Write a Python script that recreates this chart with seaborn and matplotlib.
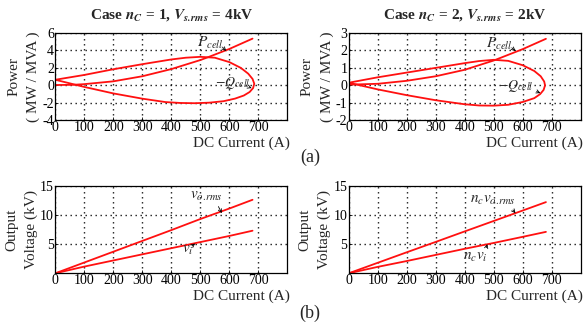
import numpy as np
import pandas as pd
import matplotlib
matplotlib.use("Agg")
import matplotlib.pyplot as plt
import seaborn as sns

# ---- data -------------------------------------------------------------
# Case nC = 1, Vs.rms = 4 kV : cell powers vs DC current
p1_current = [0, 60, 100, 200, 300, 400, 500, 530, 600, 680]
p1_power = [0.0, 0.02, 0.1, 0.42, 1.0, 1.82, 2.85, 3.22, 4.12, 5.3]
q1_current = [0, 100, 200, 300, 400, 450, 500, 550, 600, 640, 665, 680, 686,
              682, 670, 650, 620, 580, 530, 480, 430, 380, 300, 200, 100, 0]
q1_power = [0.6, 1.15, 1.8, 2.38, 2.92, 3.12, 3.22, 3.12, 2.62, 1.95, 1.3, 0.7,
            0.15, -0.35, -0.8, -1.2, -1.55, -1.85, -2.02, -2.08, -2.05, -1.95,
            -1.56, -0.96, -0.22, 0.6]

# Case nC = 2, Vs.rms = 2 kV
p2_current = [0, 100, 200, 300, 400, 500, 600, 680]
p2_power = [0.02, 0.07, 0.24, 0.5, 0.87, 1.4, 2.05, 2.64]
q2_current = [0, 100, 200, 300, 400, 450, 500, 550, 600, 640, 662, 674, 677,
              672, 660, 640, 600, 550, 500, 450, 400, 300, 200, 100, 0]
q2_power = [0.13, 0.44, 0.71, 0.98, 1.25, 1.37, 1.44, 1.38, 1.13, 0.8, 0.5,
            0.2, -0.02, -0.28, -0.52, -0.75, -0.97, -1.13, -1.18, -1.17, -1.1,
            -0.87, -0.58, -0.25, 0.13]

# Output voltages vs DC current
v_current = [0, 100, 200, 300, 400, 500, 600, 680]
vo1 = [0.0, 1.85, 3.7, 5.55, 7.4, 9.3, 11.1, 12.6]
vi1 = [0.0, 1.15, 2.2, 3.25, 4.3, 5.35, 6.4, 7.3]
vo2 = [0.0, 1.8, 3.6, 5.38, 7.18, 8.97, 10.76, 12.2]
vi2 = [0.0, 1.1, 2.1, 3.15, 4.2, 5.2, 6.25, 7.1]

x_ticks = [0, 100, 200, 300, 400, 500, 600, 700]
titles = [r"Case $\mathbfit{n}_{\mathbfit{C}}$ = 1, $\mathbfit{V}_{\mathbfit{s.\!rms}}$ = 4kV",
          r"Case $\mathbfit{n}_{\mathbfit{C}}$ = 2, $\mathbfit{V}_{\mathbfit{s.\!rms}}$ = 2kV"]


def frame(current, value, name):
    return pd.DataFrame({"current": current, "value": value, "series": name,
                         "order": np.arange(len(current))})


# ---- style ------------------------------------------------------------
sns.set_theme(style="ticks")
plt.rcParams.update({
    "font.family": ["Liberation Serif", "DejaVu Serif"],
    "mathtext.fontset": "stix",
    "axes.unicode_minus": False,
    "axes.edgecolor": "black",
    "axes.linewidth": 0.9,
    "xtick.direction": "in",
    "ytick.direction": "in",
    "xtick.major.size": 2.5,
    "ytick.major.size": 2.5,
    "xtick.major.width": 0.6,
    "ytick.major.width": 0.6,
    "xtick.major.pad": 0.8,
    "ytick.major.pad": 1.0,
    "xtick.labelsize": 10,
    "ytick.labelsize": 10,
    "xtick.color": "black",
    "ytick.color": "black",
})

RED = "#ff1010"
fig = plt.figure(figsize=(5.84, 3.28), dpi=100)

W, H = 0.3973, 0.2668
axes = {
    "tl": fig.add_axes([0.0947, 0.6341, W, H]),
    "tr": fig.add_axes([0.5971, 0.6341, W, H]),
    "bl": fig.add_axes([0.0947, 0.1668, W, H]),
    "br": fig.add_axes([0.5971, 0.1668, W, H]),
}


def draw(ax, df):
    sns.lineplot(data=df, x="current", y="value", hue="series", units="series",
                 estimator=None, sort=False, palette=[RED] * df["series"].nunique(),
                 linewidth=1.3, legend=False, ax=ax, zorder=3)


def style(ax, ylim, yticks, ylabel, label_x):
    ax.set_xlim(0, 800)
    ax.set_ylim(*ylim)
    ax.set_xticks(x_ticks)
    ax.set_yticks(yticks)
    ax.grid(True, which="major", color="black", linestyle=(0, (1, 2.6)),
            linewidth=1.0, alpha=0.9)
    ax.set_xlabel("DC Current (A)", fontsize=11, loc="right", labelpad=0)
    ax.xaxis.set_label_coords(1.01, -0.185)
    ax.xaxis.label.set_va("top")
    ax.set_ylabel(ylabel, fontsize=11, linespacing=1.6)
    ax.yaxis.set_label_coords(label_x, 0.5)
    for s in ax.spines.values():
        s.set_visible(True)
        s.set_color("black")
        s.set_zorder(4)


def note(ax, text, xy_text, xy_tip, relpos, size=11):
    ax.annotate(text, xy=xy_tip, xytext=xy_text, textcoords="data",
                fontsize=size, ha="left", va="baseline", zorder=5,
                arrowprops=dict(arrowstyle="->", color="black", lw=0.6,
                                relpos=relpos, shrinkA=0, shrinkB=0,
                                mutation_scale=6))


# power panels
draw(axes["tl"], pd.concat([frame(p1_current, p1_power, "P"),
                            frame(q1_current, q1_power, "Q")]))
draw(axes["tr"], pd.concat([frame(p2_current, p2_power, "P"),
                            frame(q2_current, q2_power, "Q")]))
style(axes["tl"], (-4, 6), [-4, -2, 0, 2, 4, 6], "Power\n( MW / MVA )", -0.065)
style(axes["tr"], (-2, 3), [-2, -1, 0, 1, 2, 3], "Power\n( MW / MVA )", -0.065)

# voltage panels
draw(axes["bl"], pd.concat([frame(v_current, vo1, "vo"),
                            frame(v_current, vi1, "vi")]))
draw(axes["br"], pd.concat([frame(v_current, vo2, "vo"),
                            frame(v_current, vi2, "vi")]))
style(axes["bl"], (0, 15), [5, 10, 15], "Output\nVoltage (kV)", -0.075)
style(axes["br"], (0, 15), [5, 10, 15], "Output\nVoltage (kV)", -0.075)

for ax, t in zip([axes["tl"], axes["tr"]], titles):
    ax.set_title(t, fontsize=11, fontweight="bold", pad=10)

note(axes["tl"], r"$P_{cell}$", (487, 4.34), (589, 3.88), (0.97, 0.25))
note(axes["tl"], r"$-Q_{cell}$", (552, -0.16), (677, -0.35), (0.97, 0.25), 10)
note(axes["tr"], r"$P_{cell}$", (473, 2.13), (575, 1.94), (0.97, 0.25))
note(axes["tr"], r"$-Q_{cell}$", (514, -0.21), (661, -0.46), (0.97, 0.25), 10)
note(axes["bl"], r"$v_{o.\!rms}$", (464, 12.7), (574, 10.3), (0.8, 0.1))
note(axes["bl"], r"$v_i$", (436, 3.5), (482, 5.1), (0.9, 0.85))
note(axes["br"], r"$n_c v_{o.\!rms}$", (419, 12.1), (575, 10.3), (0.85, 0.1))
note(axes["br"], r"$n_c v_i$", (393, 2.3), (478, 5.0), (0.9, 0.85))

fig.text(310 / 584, 1 - 157 / 328, "(a)", fontsize=13, ha="center", va="center")
fig.text(310 / 584, 1 - 313 / 328, "(b)", fontsize=13, ha="center", va="center")

fig.savefig("out.png", dpi=100)
